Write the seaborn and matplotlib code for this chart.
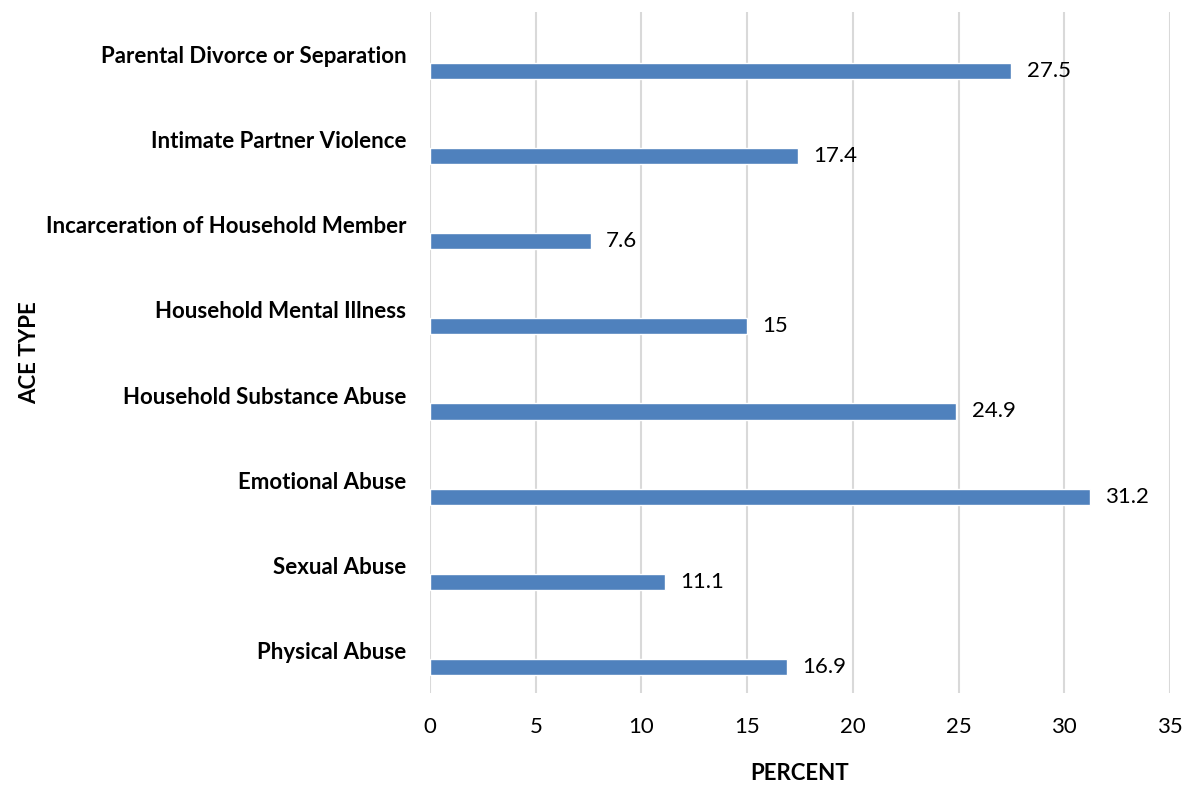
import matplotlib
matplotlib.use("Agg")
import matplotlib.pyplot as plt
import seaborn as sns
import pandas as pd

# ACE prevalence by type (percent)
categories = [
    "Parental Divorce or Separation",
    "Intimate Partner Violence",
    "Incarceration of Household Member",
    "Household Mental Illness",
    "Household Substance Abuse",
    "Emotional Abuse",
    "Sexual Abuse",
    "Physical Abuse",
]
percent = [27.5, 17.4, 7.6, 15, 24.9, 31.2, 11.1, 16.9]
value_labels = ["27.5", "17.4", "7.6", "15", "24.9", "31.2", "11.1", "16.9"]
x_ticks = [0, 5, 10, 15, 20, 25, 30, 35]

df = pd.DataFrame({"ACE TYPE": categories, "PERCENT": percent})

sns.set_theme(style="white")
plt.rcParams["font.family"] = ["Lato", "DejaVu Sans"]

fs = 16

fig = plt.figure(figsize=(11.86, 7.87), dpi=100)
ax = fig.add_axes([0.3626, 0.1194, 0.6239, 0.8654])

bar_w = 0.19
sns.barplot(data=df, x="PERCENT", y="ACE TYPE", orient="h", color="#4F81BD",
            saturation=1, width=bar_w, ax=ax, zorder=3)

# bars sit in the lower half of each category band, label at band centre
offset = 0.193
for p in ax.patches:
    p.set_y(p.get_y() + offset)

ax.bar_label(ax.containers[0], labels=value_labels, padding=11,
             fontsize=fs, color="#000000")

ax.set_xlim(0, 35)
ax.set_ylim(len(categories) - 0.5, -0.5)
ax.set_xticks(x_ticks)
ax.xaxis.grid(True, color="#D9D9D9", linewidth=1.5, zorder=0)
ax.yaxis.grid(False)
for s in ax.spines.values():
    s.set_visible(False)

ax.tick_params(axis="x", length=0, pad=17, labelsize=fs, labelcolor="#000000")
ax.tick_params(axis="y", length=0, pad=17, labelsize=fs)
for t in ax.get_yticklabels():
    t.set_fontweight("bold")
    t.set_color("#000000")

ax.set_xlabel("PERCENT", fontsize=fs, fontweight="bold", labelpad=19, color="#000000")
ax.set_ylabel("ACE TYPE", fontsize=fs, fontweight="bold", color="#000000")
ax.yaxis.set_label_coords(-0.527, 0.5)

fig.savefig("out.png", dpi=100, facecolor="white")
